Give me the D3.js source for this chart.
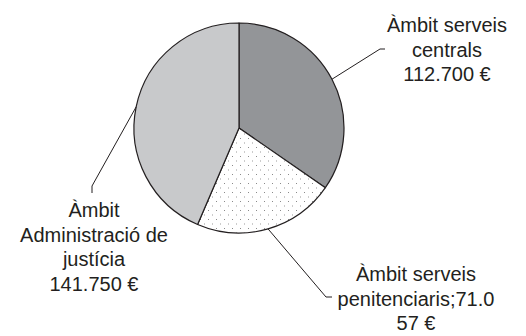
<!DOCTYPE html>
<html>
<head>
<meta charset="utf-8">
<script src="https://cdn.jsdelivr.net/npm/d3@7"></script>
<style>
	body { margin: 0; background: #fff; }
	svg text { font-family: "Liberation Sans", Arial, sans-serif; font-size: 20px; fill: #231f20; }
</style>
</head>
<body>
<svg id="chart" width="526" height="336"></svg>
<script>
//DATA
var categories = ['Àmbit serveis centrals', 'Àmbit serveis penitenciaris', 'Àmbit Administració de justícia'];
var values = [112700, 71057, 141750];
var labelLines = [
	['Àmbit serveis', 'centrals', '112.700 €'],
	['Àmbit serveis', 'penitenciaris;71.0', '57 €'],
	['Àmbit', 'Administració de', 'justícia', '141.750 €']
];

//LAYOUT (label position + leader elbow and end)
var layout = [
	{tx: 447, ty: 32, elbow: [380, 49], end: [385, 49]},
	{tx: 416, ty: 281, elbow: [326, 297], end: [332, 297]},
	{tx: 94, ty: 217, elbow: [92, 186], end: [92, 193]}
];
var fills = ['#939598', 'url(#dots)', '#c8c9cb'];

var cx = 239, cy = 128, radius = 105, lineH = 24.5;

var svg = d3.select('#chart');

//dot pattern for the middle slice
var pat = svg.append('defs').append('pattern')
	.attr('id', 'dots')
	.attr('patternUnits', 'userSpaceOnUse')
	.attr('width', 8)
	.attr('height', 9);
pat.append('rect').attr('width', 8).attr('height', 9).attr('fill', '#fff');
pat.append('rect').attr('x', 1).attr('y', 1).attr('width', 1).attr('height', 1).attr('fill', '#8a8a8a');
pat.append('rect').attr('x', 5).attr('y', 5.5).attr('width', 1).attr('height', 1).attr('fill', '#9a9a9a');

var pie = d3.pie().sort(null).value(function(d) { return d; });
var arcs = pie(values);

var arc = d3.arc().innerRadius(0).outerRadius(radius);
var edge = d3.arc().innerRadius(radius).outerRadius(radius);

var g = svg.append('g').attr('transform', 'translate(' + cx + ',' + cy + ')');

g.selectAll('path.slice')
	.data(arcs)
	.enter().append('path')
	.attr('class', 'slice')
	.attr('d', arc)
	.attr('fill', function(d, i) { return fills[i]; })
	.attr('stroke', '#231f20')
	.attr('stroke-width', 1.2)
	.attr('stroke-linejoin', 'round');

//leader lines
svg.selectAll('path.leader')
	.data(arcs)
	.enter().append('path')
	.attr('class', 'leader')
	.attr('d', function(d, i) {
		var p = edge.centroid(d);
		var l = layout[i];
		return d3.line()([[cx + p[0], cy + p[1]], l.elbow, l.end]);
	})
	.attr('fill', 'none')
	.attr('stroke', '#231f20')
	.attr('stroke-width', 1);

//labels
var labels = svg.selectAll('text.label')
	.data(labelLines)
	.enter().append('text')
	.attr('class', 'label')
	.attr('text-anchor', 'middle')
	.attr('x', function(d, i) { return layout[i].tx; })
	.attr('y', function(d, i) { return layout[i].ty; });

labels.selectAll('tspan')
	.data(function(d, i) { return d.map(function(t) { return {t: t, i: i}; }); })
	.enter().append('tspan')
	.attr('x', function(d) { return layout[d.i].tx; })
	.attr('dy', function(d, j) { return j === 0 ? 0 : lineH; })
	.text(function(d) { return d.t; });
</script>
</body>
</html>
